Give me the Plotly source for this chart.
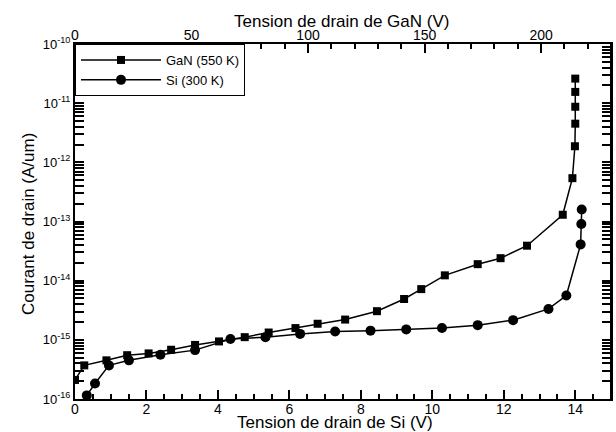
import plotly.graph_objects as go

# ---- data ----
gan_x = [0.0, 0.26, 0.88, 1.46, 2.06, 2.69, 3.36, 4.03, 4.75, 5.42, 6.17, 6.79,
         7.56, 8.45, 9.21, 9.69, 10.35, 11.27, 11.91, 12.65, 13.65, 13.92,
         13.99, 14.0, 14.0, 14.0, 14.0]
gan_y = [2.1e-16, 3.7e-16, 4.5e-16, 5.5e-16, 5.9e-16, 6.8e-16, 8.2e-16, 9.4e-16,
         1.11e-15, 1.33e-15, 1.58e-15, 1.87e-15, 2.2e-15, 3.05e-15, 4.9e-15,
         7.2e-15, 1.23e-14, 1.9e-14, 2.4e-14, 3.9e-14, 1.3e-13, 5.4e-13,
         1.87e-12, 4.5e-12, 8.7e-12, 1.55e-11, 2.6e-11]

si_x = [0.33, 0.56, 0.95, 1.51, 2.39, 3.36, 4.35, 5.33, 6.30, 7.28, 8.27, 9.27,
        10.27, 11.27, 12.26, 13.25, 13.75, 14.15, 14.17, 14.18]
si_y = [1.15e-16, 1.83e-16, 3.7e-16, 4.5e-16, 5.6e-16, 6.7e-16, 1.03e-15,
        1.11e-15, 1.26e-15, 1.38e-15, 1.43e-15, 1.5e-15, 1.59e-15, 1.77e-15,
        2.15e-15, 3.33e-15, 5.6e-15, 4.1e-14, 9.1e-14, 1.6e-13]

bottom_ticks = [0, 2, 4, 6, 8, 10, 12, 14]
top_ticks = [0, 50, 100, 150, 200]
y_exps = [-16, -15, -14, -13, -12, -11, -10]

FONT = "Liberation Sans, Arial, sans-serif"
W, H = 616, 432
ML, MR, MT, MB = 75, 5, 44, 33
PW, PH = W - ML - MR, H - MT - MB

fig = go.Figure()
fig.add_trace(go.Scatter(
    x=gan_x, y=gan_y, mode="lines+markers", name="GaN (550 K)",
    line=dict(color="black", width=1.5),
    marker=dict(symbol="square", size=8, color="black")))
fig.add_trace(go.Scatter(
    x=si_x, y=si_y, mode="lines+markers", name="Si (300 K)",
    line=dict(color="black", width=1.5),
    marker=dict(symbol="circle", size=10, color="black")))
# invisible trace to activate the top (GaN) axis
fig.add_trace(go.Scatter(
    x=[0, 230], y=[1e-16, 1e-16], xaxis="x2", mode="lines",
    line=dict(width=0), opacity=0, showlegend=False, hoverinfo="skip"))

tick_common = dict(ticks="inside", ticklen=9, tickwidth=1.5, tickcolor="black",
                   showline=True, linecolor="black", linewidth=2,
                   showgrid=False, zeroline=False, automargin=False)

fig.update_layout(
    width=W, height=H,
    margin=dict(l=ML, r=MR, t=MT, b=MB, autoexpand=False),
    paper_bgcolor="white", plot_bgcolor="white",
    font=dict(family=FONT, color="black"),
    showlegend=True,
    legend=dict(x=0, y=1, xanchor="left", yanchor="top",
                bgcolor="white", bordercolor="black", borderwidth=1,
                font=dict(size=13, family=FONT), tracegroupgap=0,
                itemwidth=80),
    xaxis=dict(range=[0, 15], tickvals=bottom_ticks, mirror=False,
               tickfont=dict(size=14), ticklabelstandoff=-4,
               minor=dict(dtick=0.5, ticks="inside", ticklen=5, tickcolor="black", showgrid=False),
               **tick_common),
    xaxis2=dict(range=[0, 230], overlaying="x", side="top", tickvals=top_ticks,
                tickfont=dict(size=14), ticklabelstandoff=-4,
                minor=dict(dtick=10, ticks="inside", ticklen=5, tickcolor="black", showgrid=False),
                **tick_common),
    yaxis=dict(type="log", range=[-16, -10],
               tickvals=[10.0 ** e for e in y_exps],
               ticktext=["10<sup>%d</sup>" % e for e in y_exps],
               mirror="allticks", tickfont=dict(size=13),
               minor=dict(dtick="D1", ticks="inside", ticklen=5, tickcolor="black", showgrid=False),
               **tick_common),
)

# frame line on the right side of the plot area
fig.add_shape(type="line", xref="paper", yref="paper", x0=1, x1=1, y0=0, y1=1,
              line=dict(color="black", width=2))

title_font = dict(size=17, family=FONT, color="black")
fig.add_annotation(text="Tension de drain de Si (V)", xref="paper", yref="paper",
                   x=(335 - ML) / PW, y=-(423 - (H - MB)) / PH,
                   xanchor="center", yanchor="middle", showarrow=False, font=title_font)
fig.add_annotation(text="Tension de drain de GaN (V)", xref="paper", yref="paper",
                   x=(341 - ML) / PW, y=1 + (MT - 21) / PH,
                   xanchor="center", yanchor="middle", showarrow=False, font=title_font)
fig.add_annotation(text="Courant de drain (A/um)", xref="paper", yref="paper",
                   x=(28 - ML) / PW, y=((H - MB) - 224) / PH, textangle=-90,
                   xanchor="center", yanchor="middle", showarrow=False, font=title_font)

fig.write_html(
    "out.html", config={"displayModeBar": False},
    post_script=("document.documentElement.style.overflow='hidden';"
                 "document.body.style.margin='0px';"
                 "document.body.style.overflow='hidden';"))
